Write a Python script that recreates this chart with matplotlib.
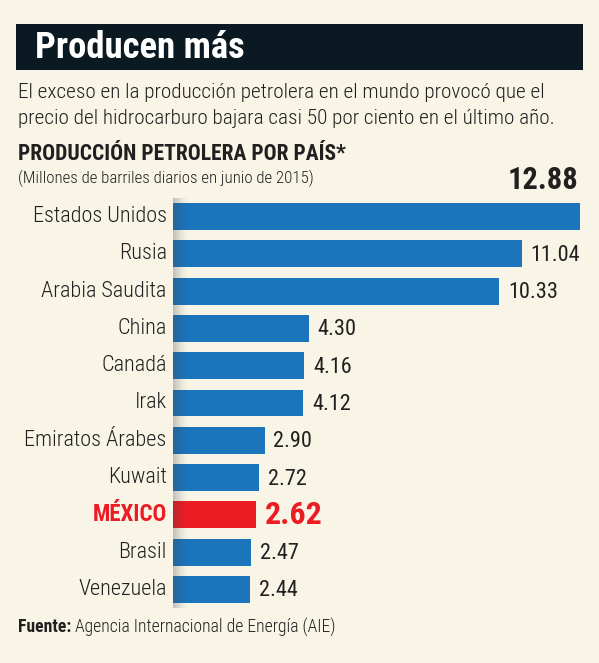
import matplotlib
matplotlib.use("Agg")
import matplotlib.pyplot as plt
import numpy as np
from matplotlib.patches import Rectangle

countries = ['Estados Unidos', 'Rusia', 'Arabia Saudita', 'China', 'Canadá', 'Irak',
             'Emiratos Árabes', 'Kuwait', 'MÉXICO', 'Brasil', 'Venezuela']
values = [12.88, 11.04, 10.33, 4.30, 4.16, 4.12, 2.90, 2.72, 2.62, 2.47, 2.44]
highlight = 'MÉXICO'

title = 'Producen más'
subtitle = ['El exceso en la producción petrolera en el mundo provocó que el',
            'precio del hidrocarburo bajara casi 50 por ciento en el último año.']
heading = 'PRODUCCIÓN PETROLERA POR PAÍS*'
units = '(Millones de barriles diarios en junio de 2015)'
source_bold = 'Fuente:'
source_text = ' Agencia Internacional de Energía (AIE)'

BG = '#f8f5e7'
BLUE = '#1b75bc'
RED = '#ec1c24'
DARK = '#231f20'
BAR_DARK = '#0b1a22'

FONT = ['Roboto Condensed', 'Roboto', 'DejaVu Sans']
plt.rcParams['font.family'] = FONT

W, H = 599, 663
fig = plt.figure(figsize=(W / 100, H / 100), dpi=100, facecolor=BG)

def fy(px):
    return 1 - px / H

def fx(px):
    return px / W

# title bar
fig.patches.append(Rectangle((fx(16), fy(70)), fx(583) - fx(16), (70 - 24) / H,
                             transform=fig.transFigure, facecolor=BAR_DARK,
                             edgecolor='none', zorder=0))
fig.text(fx(35), fy(48), title, color='white', fontsize=26.5, fontweight='bold',
         va='center', ha='left')
fig.text(fx(18), fy(93), subtitle[0], color=DARK, fontsize=15.3, fontweight='light',
         va='center', ha='left')
fig.text(fx(18), fy(118), subtitle[1], color=DARK, fontsize=15.3, fontweight='light',
         va='center', ha='left')
fig.text(fx(18), fy(154), heading, color=DARK, fontsize=15.5, fontweight='bold',
         va='center', ha='left')
fig.text(fx(18), fy(178), units, color=DARK, fontsize=12.2, fontweight='light',
         va='center', ha='left')

# axes
left_px, right_px = 173, 580
top_px, bot_px = 198, 608
ax = fig.add_axes([fx(left_px), fy(bot_px), (right_px - left_px) / W, (bot_px - top_px) / H])
ax.set_facecolor('none')
n = len(countries)
y = np.arange(n)
colors = [RED if c == highlight else BLUE for c in countries]
ax.barh(y, values, height=0.72, color=colors, zorder=2)
for s in ax.spines.values():
    s.set_visible(False)
ax.set_xticks([])
ax.set_yticks([])

# left shadow gradient
grad = np.zeros((2, 100, 4))
grad[..., :3] = 0.25
grad[..., 3] = np.linspace(0.45, 0.0, 100) ** 1.5
ax.imshow(grad, extent=(0, 0.5, n - 0.45, -0.55), aspect='auto', zorder=3,
          interpolation='bilinear')
ax.set_xlim(0, values[0])
ax.set_ylim(n - 0.5, -0.5)

for i, (c, v) in enumerate(zip(countries, values)):
    hl = c == highlight
    ax.text(-0.2, i, c, ha='right', va='center',
            fontsize=16.5 if hl else 16, fontweight='bold' if hl else 'light',
            color=RED if hl else DARK)
    label = f'{v:.2f}'
    if i == 0:
        ax.text(values[0] - 0.05, -0.97, label, ha='right', va='center', fontsize=22,
                fontweight='bold', color=DARK)
    elif hl:
        ax.text(v + 0.28, i, label, ha='left', va='center', fontsize=23,
                fontweight='bold', color=RED)
    else:
        ax.text(v + 0.28, i + 0.04, label, ha='left', va='center', fontsize=16,
                fontweight='normal', color=DARK)

# source
t1 = fig.text(fx(18), fy(627), source_bold, color=DARK, fontsize=12.7, fontweight='bold',
              va='center', ha='left')
fig.canvas.draw()
bb = t1.get_window_extent()
fig.text(bb.x1 / W, fy(627), source_text, color=DARK, fontsize=12.7, fontweight='light',
         va='center', ha='left')

fig.savefig('out.png', dpi=100, facecolor=BG)
